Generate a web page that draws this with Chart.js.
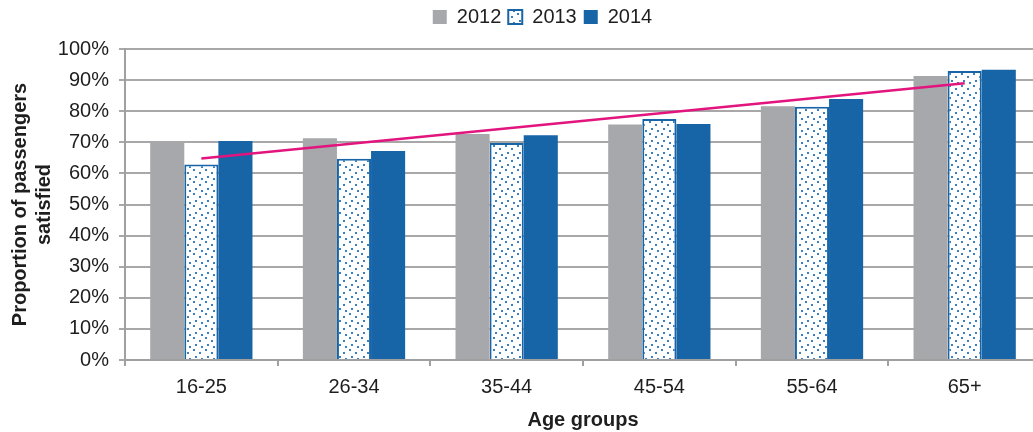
<!DOCTYPE html>
<html>
<head>
<meta charset="utf-8">
<script src="https://cdn.jsdelivr.net/npm/chart.js@4/dist/chart.umd.min.js"></script>
<style>
  html, body { margin: 0; padding: 0; background: #fff; overflow: hidden; }
  #wrap { position: absolute; left: 0; top: 0; width: 1041px; height: 432px; }
</style>
</head>
<body>
<div id="wrap"><canvas id="chart" width="1041" height="432"></canvas></div>
<script>
const ageGroups = ['16-25', '26-34', '35-44', '45-54', '55-64', '65+'];
const sat2012 = [69.9, 71.3, 72.7, 75.7, 81.6, 91.3];
const sat2013 = [62.9, 64.7, 69.8, 77.5, 81.4, 92.9];
const sat2014 = [70.4, 67.2, 72.3, 75.9, 83.9, 93.3];
const trendLine = [64.8, null, null, null, null, 89.0];
const yTicks = [0, 10, 20, 30, 40, 50, 60, 70, 80, 90, 100];

const grey = '#a7a8ab';
const blue = '#1765a7';
const pink = '#e2147d';

// dotted fill for 2013
function makeDots() {
    const c = document.createElement('canvas');
    c.width = 12; c.height = 12;
    const g = c.getContext('2d');
    g.fillStyle = '#ffffff';
    g.fillRect(0, 0, 12, 12);
    g.fillStyle = '#3a7fc0';
    [[1, 1], [7, 4], [3, 8], [9, 10]].forEach(function(p) {
        g.fillRect(p[0], p[1], 2, 2);
    });
    return g.createPattern(c, 'repeat');
}

// push the plot down below the legend, and nudge the legend right
const legendGap = {
    id: 'legendGap',
    afterInit: function(chart) {
        const leg = chart.legend;
        if (!leg) return;
        const fit = leg.fit;
        leg.fit = function() { fit.call(this); this.height += 12; };
    },
    afterLayout: function(chart) {
        const leg = chart.legend;
        if (!leg) return;
        leg.left += 22;
        leg.right += 22;
    }
};

const FONT = "'Liberation Sans', Arial, sans-serif";
Chart.defaults.font.family = FONT;
Chart.defaults.color = '#1e1e1e';

new Chart(document.getElementById('chart'), {
    type: 'bar',
    data: {
        labels: ageGroups,
        datasets: [
            { label: '2012', data: sat2012, backgroundColor: grey, borderWidth: 0, order: 2 },
            { label: '2013', data: sat2013, backgroundColor: makeDots(), borderColor: blue, borderWidth: 2, borderSkipped: 'bottom', order: 2 },
            { label: '2014', data: sat2014, backgroundColor: blue, borderWidth: 0, order: 2 },
            { type: 'line', label: 'trend', data: trendLine, spanGaps: true, borderColor: pink, borderWidth: 2.5, pointRadius: 0, fill: false, order: 0 }
        ]
    },
    plugins: [legendGap],
    options: {
        responsive: false,
        animation: false,
        layout: { padding: { left: 0, right: 0, top: 0, bottom: 0 } },
        datasets: { bar: { categoryPercentage: 0.67, barPercentage: 1.0 } },
        plugins: {
            tooltip: { enabled: false },
            legend: {
                position: 'top',
                labels: {
                    filter: function(item) { return item.text !== 'trend'; },
                    boxWidth: 14, boxHeight: 14,
                    font: { size: 20 }, color: '#1e1e1e',
                    padding: 7
                }
            }
        },
        scales: {
            x: {
                afterFit: function(axis) { axis.height = 72; },
                grid: { display: true, offset: true, drawOnChartArea: false, drawTicks: true, tickLength: 6, color: '#a0a0a0', lineWidth: 2 },
                border: { display: true, color: '#a0a0a0', width: 2 },
                ticks: { font: { size: 20 }, color: '#1e1e1e', padding: 9 },
                title: { display: true, text: 'Age groups', font: { size: 20, weight: 'bold' }, color: '#1e1e1e', padding: { top: 4, bottom: 0 } }
            },
            y: {
                min: 0, max: 100,
                afterBuildTicks: function(axis) { axis.ticks = yTicks.map(function(v) { return { value: v }; }); },
                afterFit: function(axis) { axis.width = 125; },
                grid: { color: '#a8a8a8', lineWidth: 2, tickLength: 6 },
                border: { display: true, color: '#a0a0a0', width: 2 },
                ticks: { font: { size: 20 }, color: '#1e1e1e', padding: 10, callback: function(v) { return v + '%'; } },
                title: { display: true, text: ['Proportion of passengers', 'satisfied'], font: { size: 20, weight: 'bold' }, color: '#1e1e1e', padding: { top: 8, bottom: 4 } }
            }
        }
    }
});
</script>
</body>
</html>
